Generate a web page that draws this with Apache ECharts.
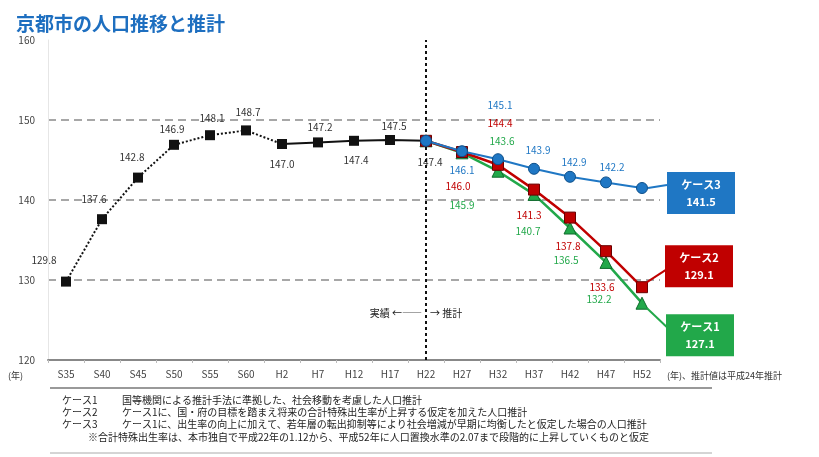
<!DOCTYPE html>
<html><head><meta charset="utf-8">
<script src="https://cdn.jsdelivr.net/npm/echarts@6/dist/echarts.min.js"></script>
<style>html,body{margin:0;padding:0;background:#fff}#c{width:819px;height:457px}</style>
</head><body><div id="c"></div>
<script>
// ---- data ----
const categories = ['S35','S40','S45','S50','S55','S60','H2','H7','H12','H17','H22','H27','H32','H37','H42','H47','H52'];
const actual = [129.8, 137.6, 142.8, 146.9, 148.1, 148.7, 147.0, 147.2, 147.4, 147.5, 147.4];
const case1 = [145.9, 143.6, 140.7, 136.5, 132.2, 127.1];
const case2 = [146.0, 144.4, 141.3, 137.8, 133.6, 129.1];
const case3 = [146.1, 145.1, 143.9, 142.9, 142.2, 141.5];
const caseNames = ['ケース1','ケース2','ケース3'];
const yMin = 120, yMax = 160, yStep = 10;
const notes = [
  ['ケース1', '国等機関による推計手法に準拠した、社会移動を考慮した人口推計'],
  ['ケース2', 'ケース1に、国・府の目標を踏まえ将来の合計特殊出生率が上昇する仮定を加えた人口推計'],
  ['ケース3', 'ケース1に、出生率の向上に加えて、若年層の転出抑制等により社会増減が早期に均衡したと仮定した場合の人口推計'],
  ['', '※合計特殊出生率は、本市独自で平成22年の1.12から、平成52年に人口置換水準の2.07まで段階的に上昇していくものと仮定']
];

// ---- styles ----
const FONT = '"Noto Sans CJK JP", "Noto Sans", sans-serif';
const BLUE = '#1f77c4', RED = '#c00000', GREEN = '#22a84a';
const histOffsets = [[-22,-21],[-8,-20],[-6,-20],[-2,-16],[2,-17],[2,-18],[0,20],[2,-15],[2,19],[4,-14],[4,21]];
const offs3 = [[0,19],[2,-54],[4,-19],[4,-15],[6,-15]];
const offs2 = [[-4,34],[2,-42],[-5,26],[-2,29],[-4,36]];
const offs1 = [[0,52],[4,-30],[-6,37],[-4,32],[-7,37]];
const boxOff = {1:[58,32], 2:[57,-21], 3:[59,5]};

const n = categories.length;
const baseIdx = actual.length - 1;

const chart = echarts.init(document.getElementById('c'));

function histLine(from, to) {
  return categories.map((c, i) => (i >= from && i <= to && i < actual.length) ? actual[i] : null);
}
function histPoints() {
  return categories.map((c, i) => i < actual.length ? {
    value: actual[i],
    label: { show: true, position: 'inside', offset: histOffsets[i], formatter: actual[i].toFixed(1) }
  } : null);
}
function projData(arr, offs, color, k) {
  return categories.map((c, i) => {
    if (i < baseIdx) return null;
    if (i === baseIdx) return { value: actual[baseIdx], label: { show: false } };
    const j = i - baseIdx - 1;
    const v = arr[j];
    if (j === arr.length - 1) {
      return { value: v, label: {
        show: true, position: 'inside', offset: boxOff[k],
        formatter: caseNames[k-1] + '\n' + v.toFixed(1),
        backgroundColor: color, color: '#fff', fontWeight: 'bold', fontSize: 11,
        width: 56, align: 'center', lineHeight: 17, padding: [4, 6]
      }};
    }
    return { value: v, label: { show: true, position: 'inside', offset: offs[j], formatter: v.toFixed(1), color: color } };
  });
}
function projSeries(name, arr, offs, color, symbol, size, border, k, w) {
  return {
    name, type: 'line', data: projData(arr, offs, color, k), connectNulls: false,
    symbol, symbolSize: size, showAllSymbol: true,
    itemStyle: { color, borderColor: border, borderWidth: 1 },
    lineStyle: { color, width: w },
    label: { fontSize: 10, fontFamily: FONT, color },
    emphasis: { disabled: true }, z: 3 + k
  };
}

const option = {
  animation: false,
  textStyle: { fontFamily: FONT },
  title: { text: '京都市の人口推移と推計', left: 11, top: 9,
    textStyle: { color: '#1e6fc0', fontSize: 19, fontWeight: 'bold', fontFamily: FONT } },
  grid: { left: 48, right: 159, top: 40, bottom: 97, containLabel: false },
  xAxis: {
    type: 'category', data: categories, boundaryGap: true,
    axisLine: { lineStyle: { color: '#888', width: 2 } },
    axisTick: { show: true, length: 3, lineStyle: { color: '#bbb' } },
    axisLabel: { fontSize: 10, color: '#444', margin: 9, fontFamily: FONT }
  },
  yAxis: {
    type: 'value', min: yMin, max: yMax, interval: yStep,
    axisLine: { show: true, lineStyle: { color: '#e6e6e6' } },
    axisTick: { show: false },
    axisLabel: { fontSize: 10, color: '#444', margin: 13, fontFamily: FONT },
    splitLine: { show: true, lineStyle: {
      color: ['rgba(0,0,0,0)', '#8a8a8a', '#8a8a8a', '#8a8a8a', 'rgba(0,0,0,0)'],
      type: [8, 5], width: 1.5 } }
  },
  series: [
    { name: 'hist-dot', type: 'line', data: histLine(0, 6), showSymbol: false,
      lineStyle: { color: '#111', width: 2, type: [2, 2] }, z: 2,
      markLine: { silent: true, symbol: 'none', label: { show: false },
        lineStyle: { color: '#111', width: 2, type: [3, 3] },
        data: [{ xAxis: categories[baseIdx] }] } },
    { name: 'hist-solid', type: 'line', data: histLine(6, baseIdx), showSymbol: false,
      lineStyle: { color: '#111', width: 2 }, z: 2 },
    { name: '実績', type: 'line', data: histPoints(), symbol: 'rect', symbolSize: 10, showAllSymbol: true,
      itemStyle: { color: '#111' }, lineStyle: { opacity: 0 },
      label: { fontSize: 10, color: '#333', fontFamily: FONT }, z: 3 },
    projSeries('ケース1', case1, offs1, GREEN, 'triangle', 12, '#0f6b2c', 1, 2.5),
    projSeries('ケース2', case2, offs2, RED, 'rect', 11, '#6a0000', 2, 2.5),
    projSeries('ケース3', case3, offs3, BLUE, 'circle', 11, '#0d4f8a', 3, 2)
  ]
};
chart.setOption(option);

// ---- annotations positioned from the chart's own scales ----
const g = [];
const last = n - 1;
const pts = {
  1: chart.convertToPixel({ xAxisIndex: 0, yAxisIndex: 0 }, [last, case1[case1.length-1]]),
  2: chart.convertToPixel({ xAxisIndex: 0, yAxisIndex: 0 }, [last, case2[case2.length-1]]),
  3: chart.convertToPixel({ xAxisIndex: 0, yAxisIndex: 0 }, [last, case3[case3.length-1]])
};
const cols = {1: GREEN, 2: RED, 3: BLUE};
const conn = {1: [[5,5],[25,24]], 2: [[5,-5],[25,-18]], 3: [[6,0],[25,-3]]};
[1,2,3].forEach(k => {
  const p = pts[k];
  g.push({ type: 'line', shape: { x1: p[0]+conn[k][0][0], y1: p[1]+conn[k][0][1], x2: p[0]+conn[k][1][0], y2: p[1]+conn[k][1][1] },
    style: { stroke: cols[k], lineWidth: 2 }, z: 10 });
});
const vx = chart.convertToPixel({ xAxisIndex: 0 }, baseIdx);
g.push({ type: 'text', x: vx - 4, y: 313, style: { text: '実績 ←――', align: 'right', verticalAlign: 'middle', font: '10px ' + FONT, fill: '#222' } });
g.push({ type: 'text', x: vx + 4, y: 313, style: { text: '→ 推計', align: 'left', verticalAlign: 'middle', font: '10px ' + FONT, fill: '#222' } });
g.push({ type: 'text', x: 8, y: 376, style: { text: '(年)', verticalAlign: 'middle', font: '9px ' + FONT, fill: '#333' } });
g.push({ type: 'text', x: 667, y: 376, style: { text: '(年)、推計値は平成24年推計', verticalAlign: 'middle', font: '9px ' + FONT, fill: '#333' } });
g.push({ type: 'line', shape: { x1: 50, y1: 388, x2: 712, y2: 388 }, style: { stroke: '#777', lineWidth: 1.5 } });
g.push({ type: 'line', shape: { x1: 50, y1: 453, x2: 712, y2: 453 }, style: { stroke: '#aaa', lineWidth: 1 } });
notes.forEach((r, i) => {
  const y = 400 + i * 12.3;
  if (r[0]) g.push({ type: 'text', x: 62, y, style: { text: r[0], verticalAlign: 'middle', font: '10px ' + FONT, fill: '#222' } });
  g.push({ type: 'text', x: r[0] ? 122 : 88, y, style: { text: r[1], verticalAlign: 'middle', font: '10px ' + FONT, fill: '#222' } });
});
chart.setOption({ graphic: g });
</script>
</body></html>
